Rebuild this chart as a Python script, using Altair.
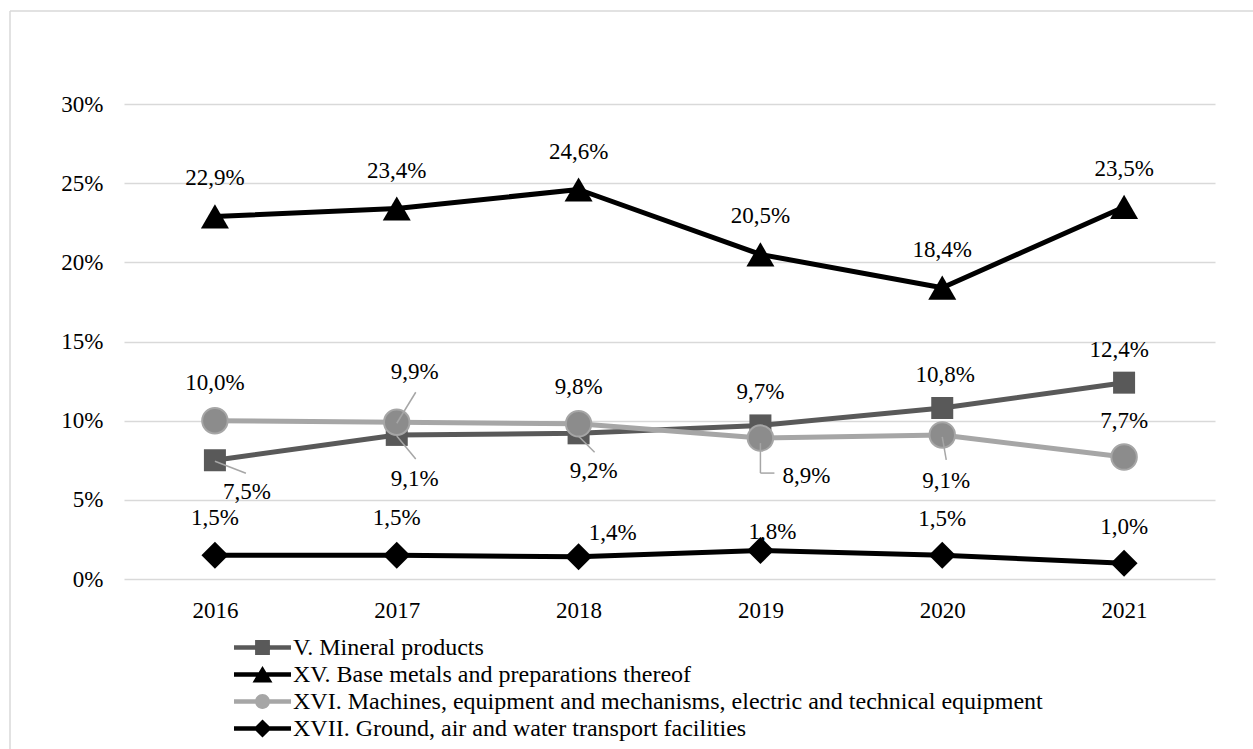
import altair as alt
import pandas as pd

# ---------------- data ----------------
years = ["2016", "2017", "2018", "2019", "2020", "2021"]
series_names = [
    "V. Mineral products",
    "XV. Base metals and preparations thereof",
    "XVI. Machines, equipment and mechanisms, electric and technical equipment",
    "XVII. Ground, air and water transport facilities",
]
mineral = [7.5, 9.1, 9.2, 9.7, 10.8, 12.4]
base_metals = [22.9, 23.4, 24.6, 20.5, 18.4, 23.5]
machines = [10.0, 9.9, 9.8, 8.9, 9.1, 7.7]
transport = [1.5, 1.5, 1.4, 1.8, 1.5, 1.0]
y_ticks = [0, 5, 10, 15, 20, 25, 30]

rows = []
for s, vals in zip(series_names, [mineral, base_metals, machines, transport]):
    for yr, v in zip(years, vals):
        rows.append({"series": s, "year": yr, "value": v})
df = pd.DataFrame(rows)

# ---------------- styles ----------------
FONT = "Liberation Serif, Times New Roman, Times, DejaVu Serif, serif"
FS = 23
LEG_FS = 24
line_colors = ["#595959", "#000000", "#a6a6a6", "#000000"]
GRID = "#d9d9d9"
LEADER = "#a6a6a6"

W, H = 1091, 475
PAD = {"left": 124, "top": 104, "right": 38, "bottom": 170}

x_enc = alt.X(
    "year:N",
    scale=alt.Scale(type="point", domain=years, padding=0.5),
    axis=alt.Axis(title=None, labelFont=FONT, labelFontSize=FS, labelColor="black",
                  ticks=False, domain=False, grid=False, labelAngle=0,
                  labelPadding=31, labelBaseline="middle"),
)
y_enc = alt.Y(
    "value:Q",
    scale=alt.Scale(domain=[0, 30], nice=False, zero=True),
    axis=alt.Axis(title=None, values=y_ticks, labelExpr="datum.value + '%'",
                  labelFont=FONT, labelFontSize=FS, labelColor="black",
                  ticks=False, domain=False, labelPadding=21,
                  gridColor=GRID, gridWidth=1.5),
)

base = alt.Chart(df)

def sel(i, yr=None):
    e = f"datum.series === '{series_names[i]}'"
    if yr is not None:
        e += f" && datum.year === '{yr}'"
    return e

# legend (symbols: line segment + marker); this layer draws no marks itself
legend_paths = [
    "M-1,-0.08H1V0.08H-1Z M-0.26,-0.26H0.26V0.26H-0.26Z",
    "M-1,-0.08H1V0.08H-1Z M0,-0.3L0.35,0.28L-0.35,0.28Z",
    "M-1,-0.08H1V0.08H-1Z M-0.26,0A0.26,0.26 0 1,1 0.26,0A0.26,0.26 0 1,1 -0.26,0Z",
    "M-1,-0.08H1V0.08H-1Z M0,-0.32L0.32,0L0,0.32L-0.32,0Z",
]
leg = alt.Legend(
    orient="none", legendX=110, legendY=530, direction="vertical", title=None,
    symbolSize=3249, symbolStrokeWidth=0, clipHeight=27, rowPadding=0,
    labelOffset=2, symbolOffset=0, padding=0, labelFont=FONT, labelFontSize=LEG_FS,
    labelColor="black", labelLimit=2000, symbolOpacity=1,
)
legend_layer = base.transform_filter("datum.value < 0").mark_point(filled=True, opacity=1).encode(
    x=x_enc, y=y_enc,
    color=alt.Color("series:N", scale=alt.Scale(domain=series_names, range=line_colors), legend=leg),
    shape=alt.Shape("series:N", scale=alt.Scale(domain=series_names, range=legend_paths), legend=leg),
)

# frame (decoration around the whole chart)
frame_df = pd.DataFrame({"k": [0]})
frame_left = alt.Chart(frame_df).mark_rule(color=GRID, strokeWidth=1.5).encode(
    x=alt.value(-114), y=alt.value(-93), y2=alt.value(H + 200))
frame_top = alt.Chart(frame_df).mark_rule(color=GRID, strokeWidth=1.5).encode(
    x=alt.value(-114), x2=alt.value(W + 200), y=alt.value(-93))

# lines, one per series
lines = [
    base.transform_filter(sel(i)).mark_line(
        strokeWidth=5, strokeJoin="round", strokeCap="round", color=line_colors[i]
    ).encode(x=x_enc, y=y_enc)
    for i in range(4)
]

# markers
marker_styles = [
    dict(shape="square", size=484, fill="#595959", stroke="#595959", strokeWidth=0),
    dict(shape="triangle-up", size=784, fill="#000000", stroke="#000000", strokeWidth=0),
    dict(shape="circle", size=650, fill="#8c8c8c", stroke="#a6a6a6", strokeWidth=2),
    dict(shape="diamond", size=729, fill="#000000", stroke="#000000", strokeWidth=0),
]
markers = [
    base.transform_filter(sel(i)).mark_point(filled=True, opacity=1, **st).encode(x=x_enc, y=y_enc)
    for i, st in enumerate(marker_styles)
]

# data labels: placement offsets (layout only)
default_dy = [-33, -38, -37, -37]
label_offsets = {
    (0, "2016"): (32, 32), (0, "2017"): (18, 44), (0, "2018"): (15, 38),
    (0, "2020"): (3, -33), (0, "2021"): (-5, -33),
    (2, "2016"): (0, -38), (2, "2017"): (18, -50), (2, "2019"): (46, 38),
    (2, "2020"): (4, 46), (2, "2021"): (0, -36),
    (3, "2018"): (34, -24), (3, "2019"): (12, -19), (3, "2020"): (0, -36), (3, "2021"): (0, -36),
}
groups = {}
for i in range(4):
    for yr in years:
        off = label_offsets.get((i, yr), (0, default_dy[i]))
        groups.setdefault(off, []).append(sel(i, yr))

texts = []
for (dx, dy), conds in groups.items():
    expr = " || ".join(f"({c})" for c in conds)
    texts.append(
        base.transform_filter(expr)
        .transform_calculate(label="replace(format(datum.value, '.1f'), '.', ',') + '%'")
        .mark_text(font=FONT, fontSize=FS, color="black", dx=dx, dy=dy,
                   align="center", baseline="middle")
        .encode(x=x_enc, y=y_enc, text="label:N")
    )

# leader lines (start offset, end offset)
leaders_spec = [
    (0, "2016", (0, 1), (31, 13)),
    (0, "2017", (0, 1), (19, 24)),
    (0, "2018", (0, 3), (16, 19)),
    (2, "2017", (0, 1), (19, -30)),
    (2, "2019", (0, 5), (0, 35)),
    (2, "2019", (0, 35), (14, 35)),
    (2, "2020", (0, 2), (4, 25)),
]
leaders = [
    base.transform_filter(sel(i, yr)).mark_rule(
        color=LEADER, strokeWidth=1.5,
        xOffset=a[0], yOffset=a[1], x2Offset=b[0], y2Offset=b[1])
    .encode(x=x_enc, y=y_enc, x2=alt.X2("year:N"), y2=alt.Y2("value:Q"))
    for i, yr, a, b in leaders_spec
]

chart = alt.layer(
    legend_layer, frame_left, frame_top, *lines, *markers, *leaders, *texts
).properties(
    width=W, height=H,
    autosize=alt.AutoSizeParams(type="none"),
    padding=PAD,
    background="white",
).configure_view(stroke=None)

chart.save("out.html", embed_options={"renderer": "svg", "actions": False})
